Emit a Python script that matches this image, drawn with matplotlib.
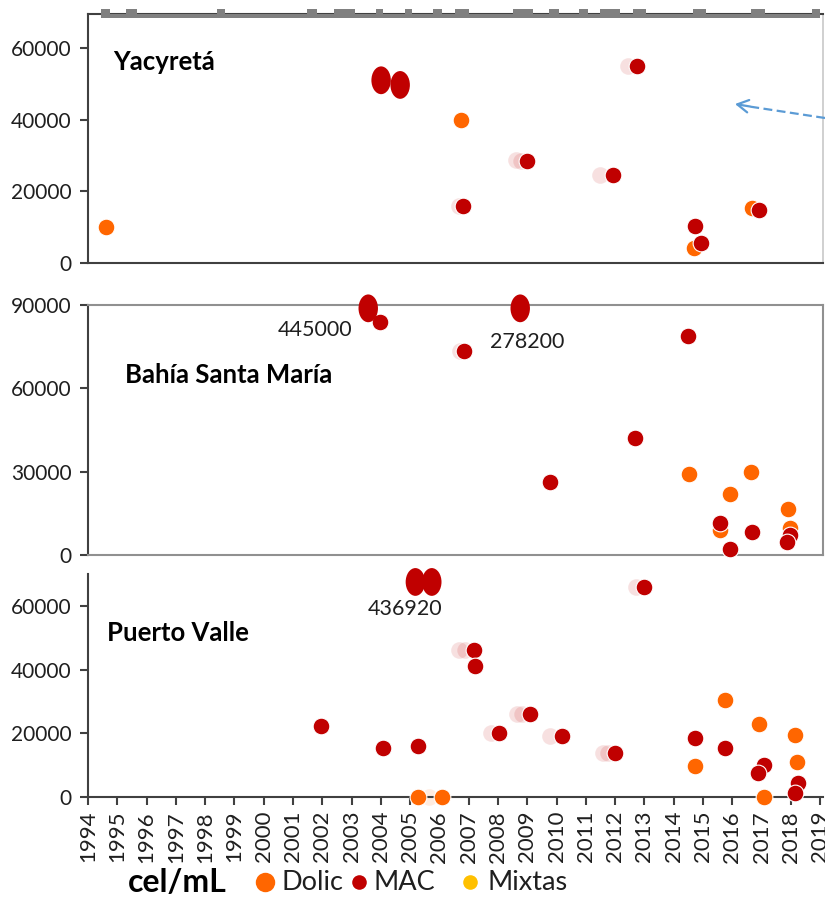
import matplotlib.pyplot as plt
from matplotlib.lines import Line2D
from matplotlib.patches import Rectangle
from matplotlib.path import Path
from matplotlib.transforms import Affine2D
import numpy as np

plt.rcParams['font.family'] = ['Lato', 'DejaVu Sans']

DOLIC = '#ff6600'
MAC = '#c00000'
MIXTAS = '#ffc000'
DARK = '#404040'
TXT = '#1f1f1f'

years = list(range(1994, 2020))

# sampling campaigns (start, end) marked on the top band
campaigns = [(1994.45, 1994.75), (1995.30, 1995.66), (1998.41, 1998.67),
             (2001.48, 2001.81), (2002.39, 2003.11), (2003.83, 2004.09),
             (2004.81, 2005.07), (2005.79, 2006.09), (2006.54, 2007.00),
             (2008.50, 2009.19), (2009.76, 2010.09), (2010.77, 2011.08),
             (2011.48, 2012.16), (2012.62, 2013.07), (2014.66, 2015.10),
             (2016.65, 2017.11), (2018.74, 2018.99)]

# --- Yacyretá
yac_dolic_x = [1994.62, 2006.75, 2014.68, 2016.69]
yac_dolic_y = [10000, 39900, 4200, 15300]
yac_mac_x = [2006.82, 2009.0, 2011.94, 2012.76, 2014.74, 2014.92, 2016.9]
yac_mac_y = [15900, 28400, 24500, 55000, 10300, 5600, 14800]
yac_stack_x = [2004.01, 2004.66]          # several samples stacked on one date
yac_stack_y = [51000, 49700]
yac_faded_x = [2006.68, 2008.63, 2008.77, 2011.5, 2012.45]
yac_faded_y = [15900, 28700, 28500, 24500, 55000]

# --- Bahía Santa María
bsm_dolic_x = [2014.51, 2015.91, 2016.63, 2017.89, 2015.57, 2017.96]
bsm_dolic_y = [29200, 22000, 29900, 16600, 9000, 9700]
bsm_mac_x = [2003.98, 2006.83, 2009.79, 2012.69, 2014.5, 2015.58, 2016.66,
             2015.92, 2017.99, 2017.88]
bsm_mac_y = [84000, 73500, 26400, 42000, 79000, 11600, 8200, 2000, 7200, 4600]
bsm_out_x = [2003.57, 2008.76]
bsm_out_y = [445000, 278200]
bsm_faded_x = [2006.7]
bsm_faded_y = [73500]

# --- Puerto Valle
pv_dolic_x = [2005.27, 2006.09, 2014.74, 2015.74, 2016.91, 2017.08, 2018.16, 2018.22]
pv_dolic_y = [0, 0, 9700, 30300, 22800, 0, 19500, 10900]
pv_mac_x = [2001.95, 2004.09, 2005.27, 2007.17, 2007.23, 2008.02, 2009.08,
            2010.17, 2011.99, 2012.99, 2014.74, 2015.74, 2017.08, 2016.87,
            2018.24, 2018.16]
pv_mac_y = [22400, 15500, 16100, 46200, 41200, 20000, 26000, 19300, 13700,
            65900, 18400, 15500, 10000, 7600, 4500, 1200]
pv_out_x = [2005.18, 2005.74]
pv_out_y = [436920, 436920]
pv_faded_x = [2006.68, 2006.86, 2007.77, 2008.66, 2008.82, 2009.79, 2011.6,
              2011.76, 2012.73]
pv_faded_y = [46200, 46200, 20000, 26000, 26000, 19300, 13700, 13700, 65900]
pv_faded_dolic_x = [2005.66]
pv_faded_dolic_y = [0]

tall_dot = Path.unit_circle().transformed(Affine2D().scale(0.7, 1.0))

fig = plt.figure(figsize=(8.25, 8.97), dpi=100)
L, W = 88 / 825, 735 / 825
ax1 = fig.add_axes([L, 1 - 263 / 897, W, 249 / 897])
ax2 = fig.add_axes([L, 1 - 555 / 897, W, 250 / 897])
ax3 = fig.add_axes([L, 1 - 797 / 897, W, 223 / 897])

S = 145


def dots(ax, x, y, color, **kw):
    ax.scatter(x, y, s=S, color=color, edgecolors='white', linewidths=0.8,
               clip_on=False, **kw)


def stacks(ax, x, y):
    ax.scatter(x, y, s=400, marker=tall_dot, color=MAC, edgecolors='none',
               clip_on=False, zorder=4)


for ax, ymax, step in [(ax1, 69500, 20000), (ax2, 90000, 30000), (ax3, 70000, 20000)]:
    ax.set_xlim(1994, 2019.1)
    ax.set_ylim(0, ymax)
    ax.set_yticks(np.arange(0, ymax + 1, step))
    ax.tick_params(axis='y', direction='out', length=6, width=1.5, color=DARK,
                   labelsize=15, labelcolor=TXT, pad=6)
    ax.tick_params(axis='x', bottom=False, labelbottom=False)
    for side in ['left', 'bottom', 'top', 'right']:
        ax.spines[side].set_linewidth(1.5)
        ax.spines[side].set_color(DARK)

# top panel
ax1.spines['right'].set_color('#c8c8c8')
ax1.spines['right'].set_linewidth(1.2)
ax1.add_patch(Rectangle((campaigns[0][0], 69500 - 1150),
                        campaigns[-1][1] - campaigns[0][0], 1150,
                        color='#808080', lw=0, clip_on=False, zorder=3))
for a, b in campaigns:
    ax1.add_patch(Rectangle((a, 69500), b - a, 1500, color='#808080', lw=0,
                            clip_on=False, zorder=3))
dots(ax1, yac_faded_x, yac_faded_y, MAC, alpha=0.12)
dots(ax1, yac_dolic_x, yac_dolic_y, DOLIC, zorder=3)
dots(ax1, yac_mac_x, yac_mac_y, MAC, zorder=4)
stacks(ax1, yac_stack_x, yac_stack_y)
ax1.text(0.034, 0.807, 'Yacyretá', transform=ax1.transAxes, fontsize=18.5,
         fontweight='bold', color='black', va='center', ha='left')

# middle panel
for side in ['top', 'right', 'bottom']:
    ax2.spines[side].set_color('#909090')
dots(ax2, bsm_faded_x, bsm_faded_y, MAC, alpha=0.12)
dots(ax2, bsm_dolic_x, bsm_dolic_y, DOLIC, zorder=3)
dots(ax2, bsm_mac_x, bsm_mac_y, MAC, zorder=4)
stacks(ax2, bsm_out_x, np.minimum(bsm_out_y, 88800))
for x, v, tx, ty in zip(bsm_out_x, bsm_out_y, [2001.76, 2009.0], [81000, 76700]):
    ax2.text(tx, ty, str(v), fontsize=15.5, color=TXT, ha='center', va='center')
ax2.text(0.05, 0.72, 'Bahía Santa María', transform=ax2.transAxes, fontsize=18.5,
         fontweight='bold', color='black', va='center', ha='left')

# bottom panel
ax3.spines['top'].set_visible(False)
ax3.spines['right'].set_visible(False)
dots(ax3, pv_faded_x, pv_faded_y, MAC, alpha=0.12)
dots(ax3, pv_faded_dolic_x, pv_faded_dolic_y, DOLIC, alpha=0.12)
dots(ax3, pv_dolic_x, pv_dolic_y, DOLIC, zorder=3)
dots(ax3, pv_mac_x, pv_mac_y, MAC, zorder=4)
stacks(ax3, pv_out_x, np.minimum(pv_out_y, 67500))
ax3.text(2004.83, 58900, str(pv_out_y[0]), fontsize=15.5, color=TXT,
         ha='center', va='center')
ax3.text(0.026, 0.735, 'Puerto Valle', transform=ax3.transAxes, fontsize=18.5,
         fontweight='bold', color='black', va='center', ha='left')
ax3.set_xticks(years)
ax3.set_xticklabels([str(y) for y in years], rotation=90)
ax3.tick_params(axis='x', bottom=True, labelbottom=True, direction='out',
                length=6, width=1.5, color=DARK, labelsize=16, labelcolor=TXT, pad=4)

# dashed pointer on the top panel
fig.add_artist(Line2D([825 / 825, 746 / 825], [1 - 118 / 897, 1 - 106 / 897],
                      color='#5b9bd5', lw=1.6, ls=(0, (4, 2))))
ax1.annotate('', xy=(735 / 825, 1 - 104 / 897), xycoords='figure fraction',
             xytext=(750 / 825, 1 - 106.5 / 897), textcoords='figure fraction',
             arrowprops=dict(arrowstyle='->,head_length=0.8,head_width=0.45',
                             color='#5b9bd5', lw=1.6, shrinkA=0, shrinkB=0))

# legend row
ly = 1 - 882 / 897
fig.text(128 / 825, ly, 'cel/mL', fontsize=23, fontweight='bold', color='black',
         va='center', ha='left')
for mx, col, ms, label, tx in [(265, DOLIC, 14, 'Dolic', 281), (359, MAC, 10.5, 'MAC', 374),
                               (470, MIXTAS, 10.5, 'Mixtas', 487)]:
    fig.add_artist(Line2D([mx / 825], [ly], marker='o', ms=ms, color=col, mec='none',
                          ls='none'))
    fig.text(tx / 825, ly, label, fontsize=19.5, color=TXT, va='center', ha='left')

fig.savefig('out.png', dpi=100)
